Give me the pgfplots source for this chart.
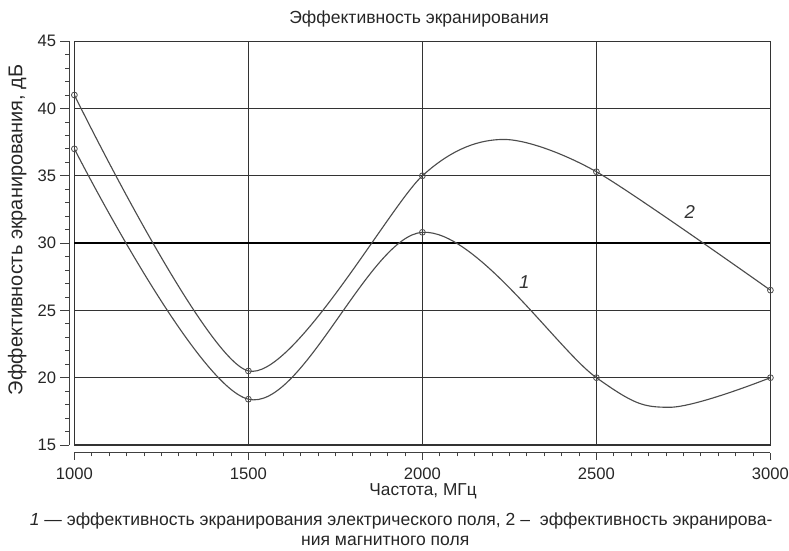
\documentclass[border=0pt]{standalone}
\usepackage{pgfplots}
\pgfplotsset{compat=1.18}
\usepackage{fontspec}
\setmainfont{Liberation Sans}
\begin{document}
\begin{tikzpicture}[x=1pt,y=1pt]
\useasboundingbox (-56pt,-79.5pt) rectangle (538pt,335pt);
% grid and frame
\begin{axis}[
  at={(0pt,0pt)}, anchor=south west,
  scale only axis,
  width=524pt, height=304pt,
  xmin=1000, xmax=3000, ymin=15, ymax=45,
  xtick={1000,1500,2000,2500,3000},
  ytick={15,20,...,45},
  xticklabels={}, yticklabels={},
  major tick length=0pt,
  grid=major,
  major grid style={draw=black!80, line width=0.8pt},
  axis line style={draw=black!80, line width=0.8pt},
  clip=false,
]
\addplot[black, line width=1.4pt, forget plot] coordinates {(1000,30) (3000,30)};
\addplot[black!70, line width=0.85pt, smooth, tension=0.55] coordinates {
 (1000,37) (1500,18.4) (2000,30.8) (2500,20) (2710,17.8) (3000,20)
};
\addplot[black!70, line width=0.85pt, smooth, tension=0.45] coordinates {
 (1000,41) (1500,20.5) (2000,35) (2230,37.7) (2500,35.3) (3000,26.5)
};
\addplot[only marks, mark=o, mark size=2.2pt, black!70, line width=0.6pt] coordinates {
 (1000,37) (1500,18.4) (2000,30.8) (2500,20) (3000,20)
 (1000,41) (1500,20.5) (2000,35) (2500,35.3) (3000,26.5)
};
\node[font=\itshape\fontsize{14}{16}\selectfont, text=black!80] at (axis cs:2293,27.1) {1};
\node[font=\itshape\fontsize{14}{16}\selectfont, text=black!80] at (axis cs:2768,32.3) {2};
\end{axis}
% offset x tick axis
\begin{axis}[
  at={(0pt,-6pt)}, anchor=south west,
  scale only axis,
  width=524pt, height=304pt,
  xmin=1000, xmax=3000, ymin=15, ymax=45,
  axis x line=bottom, axis y line=none,
  axis line style={-, draw=black!75, line width=0.8pt},
  xtick={1000,1500,2000,2500,3000},
  minor x tick num=9,
  tick style={draw=black!75, line width=0.6pt},
  major tick length=5pt, minor tick length=2.5pt,
  tick align=outside,
  /pgf/number format/assume math mode=true,
  /pgf/number format/1000 sep={},
  tick label style={font=\fontsize{12.5}{14}\selectfont, text=black!85},
  xticklabel style={inner sep=0pt, yshift=-6pt},
]
\end{axis}
% offset y tick axis
\begin{axis}[
  at={(-3.75pt,0pt)}, anchor=south west,
  scale only axis,
  width=524pt, height=304pt,
  xmin=1000, xmax=3000, ymin=15, ymax=45,
  axis y line=left, axis x line=none,
  axis line style={-, draw=black!75, line width=0.8pt},
  ytick={15,20,...,45},
  minor y tick num=4,
  tick style={draw=black!75, line width=0.6pt},
  major tick length=7pt, minor tick length=3pt,
  tick align=outside,
  /pgf/number format/assume math mode=true,
  tick label style={font=\fontsize{12.5}{14}\selectfont, text=black!85},
  yticklabel style={inner sep=0pt, xshift=-2.75pt},
]
\end{axis}
\node[font=\fontsize{13.2}{15}\selectfont, text=black!85] at (259.5pt,320.5pt) {Эффективность экранирования};
\node[font=\fontsize{15}{17}\selectfont, text=black!85, rotate=90] at (-43pt,162pt) {Эффективность экранирования, дБ};
\node[font=\fontsize{13}{15}\selectfont, text=black!85, inner sep=0pt] at (262.5pt,-35pt) {Частота, МГц};
\node[font=\fontsize{13.2}{15}\selectfont, text=black!85] at (246pt,-57pt) {\textit{1} — эффективность экранирования электрического поля, 2 -- \ эффективность экранирова-};
\node[font=\fontsize{13.2}{15}\selectfont, text=black!85] at (234pt,-72pt) {ния магнитного поля};
\end{tikzpicture}
\end{document}
